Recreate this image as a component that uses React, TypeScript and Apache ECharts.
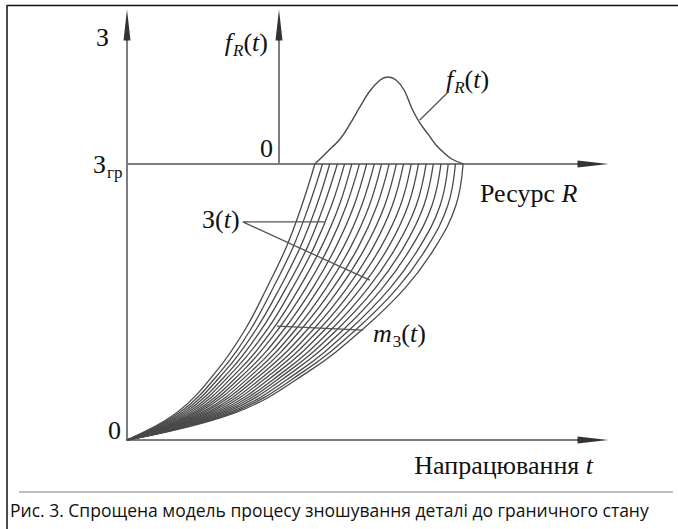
import React, { useEffect, useRef } from 'react';
import * as echarts from 'echarts';

// Wear levels З (same for every curve), with the limit wear Згр
const wearLimit = 69.1;
const wearLevels = [0, 6.9, 17.3, 27.6, 38.0, 48.4, 58.7, 69.1];

// Operating time t at which each wear curve reaches each wear level
const curveTimes: number[][] = [
  [0, 11.1, 19.9, 26.2, 31.0, 35.4, 38.8, 41.7],
  [0, 11.7, 20.9, 27.4, 32.4, 36.9, 40.4, 43.4],
  [0, 12.3, 21.8, 28.6, 33.9, 38.5, 42.1, 45.0],
  [0, 12.9, 22.8, 29.8, 35.3, 40.1, 43.7, 46.7],
  [0, 13.5, 23.7, 31.1, 36.7, 41.6, 45.4, 48.3],
  [0, 14.1, 24.7, 32.3, 38.2, 43.2, 47.1, 49.9],
  [0, 14.7, 25.7, 33.5, 39.7, 44.8, 48.7, 51.6],
  [0, 15.3, 26.7, 34.8, 41.2, 46.4, 50.4, 53.2],
  [0, 15.9, 27.7, 36.1, 42.6, 48.1, 52.1, 54.9],
  [0, 16.6, 28.7, 37.4, 44.2, 49.7, 53.8, 56.5],
  [0, 17.2, 29.7, 38.6, 45.7, 51.4, 55.5, 58.2],
  [0, 17.9, 30.7, 40.0, 47.2, 53.0, 57.2, 59.8],
  [0, 18.5, 31.8, 41.3, 48.8, 54.7, 58.9, 61.4],
  [0, 19.2, 32.8, 42.6, 50.3, 56.4, 60.7, 63.1],
  [0, 19.9, 33.9, 43.9, 51.9, 58.1, 62.4, 64.7],
  [0, 20.6, 35.0, 45.3, 53.5, 59.8, 64.2, 66.4],
  [0, 21.3, 36.0, 46.6, 55.1, 61.5, 65.9, 68.0],
  [0, 22.0, 37.1, 48.0, 56.7, 63.2, 67.7, 69.7],
  [0, 22.8, 38.3, 49.4, 58.4, 65.0, 69.5, 71.3],
  [0, 23.5, 39.4, 50.8, 60.0, 66.7, 71.2, 72.9],
  [0, 24.2, 40.5, 52.2, 61.7, 68.5, 73.0, 74.6],
];

// Resource density f_R
const densityR = [41.7, 43.3, 45.1, 47.3, 49.5, 51.7, 53.9, 56.2, 57.9, 59.7, 61.5, 63.3, 65.0, 66.8, 68.6, 70.4, 72.1, 74.6];
const densityF = [0, 0.057, 0.121, 0.202, 0.324, 0.462, 0.591, 0.68, 0.704, 0.68, 0.599, 0.445, 0.332, 0.243, 0.154, 0.089, 0.04, 0];

// Position of the f_R axis on the resource scale
const fAxisAt = 33.74;

// Leader lines of the annotations
const wearLeader = [[43.9, 54.6], [25.7, 54.6], [53.9, 40.0]];
const meanLeader = [[33.3, 28.5], [52.4, 27.5]];
const densityLeader = [[65.0, 0.356], [71.3, 0.583]];

const SERIF = '"Liberation Serif", "Times New Roman", serif';
const SANS = '"Open Sans", "Noto Sans", sans-serif';
const INK = '#111';
const AXIS = '#7d7d7d';
const CURVE = '#4a4a4a';

export default function App() {
  const ref = useRef<HTMLDivElement>(null);
  useEffect(() => {
    const chart = echarts.init(ref.current!, null, { renderer: 'svg' });
    const GL = 127, GW = 450.5, GT = 40.5, GH = 399.5;
    const topH = GH * (1 - wearLimit / 100);
    const hidden = { show: false };
    const axisLine = { show: true, onZero: false, lineStyle: { color: AXIS, width: 2 } };
    const baseAxis = { axisLine, axisTick: hidden, axisLabel: hidden, splitLine: hidden };

    const fs = 26;
    const main = { fontFamily: SERIF, fontSize: fs, fill: INK, lineHeight: 34 };
    const ital = { ...main, fontStyle: 'italic' };
    const sub = { fontFamily: SERIF, fontSize: 17, fill: INK, verticalAlign: 'bottom', lineHeight: 17, padding: [0, 0, 0, 1] };
    const subI = { ...sub, fontStyle: 'italic' };
    const rich = { m: main, i: ital, s: sub, si: subI };
    const txt = (text: string, x: number, y: number, align: string, extra: any = {}) => ({
      type: 'text', x, y, silent: true,
      style: { text, rich, align, verticalAlign: 'middle', fontFamily: SERIF, fontSize: fs, fill: INK, ...extra },
    });

    const option: any = {
      animation: false,
      grid: [
        { left: GL, top: GT, width: GW, height: GH, outerBoundsMode: 'none' },
        { left: GL, top: GT, width: GW, height: topH, outerBoundsMode: 'none' },
      ],
      xAxis: [
        { type: 'value', gridIndex: 0, min: 0, max: 100, ...baseAxis },
        { type: 'value', gridIndex: 1, min: 0, max: 100, ...baseAxis },
      ],
      yAxis: [
        { type: 'value', gridIndex: 0, min: 0, max: 100, ...baseAxis },
        { type: 'value', gridIndex: 1, min: 0, max: 1, offset: -(fAxisAt / 100) * GW, ...baseAxis },
      ],
      series: [
        ...curveTimes.map((ts, i) => ({
          type: 'line', name: 'З(t) ' + (i + 1), xAxisIndex: 0, yAxisIndex: 0,
          data: ts.map((t, k) => [t, wearLevels[k]]),
          smooth: 0.4, symbol: 'none', silent: true,
          lineStyle: { color: CURVE, width: 1.3 },
        })),
        {
          type: 'line', name: 'f_R', xAxisIndex: 1, yAxisIndex: 1,
          data: densityR.map((r, k) => [r, densityF[k]]),
          smooth: 0.4, symbol: 'none', silent: true,
          lineStyle: { color: CURVE, width: 1.4 },
        },
        {
          type: 'line', xAxisIndex: 0, yAxisIndex: 0, data: wearLeader, symbol: 'none', silent: true,
          lineStyle: { color: '#555', width: 1.3 },
        },
        {
          type: 'line', xAxisIndex: 0, yAxisIndex: 0, data: meanLeader, symbol: 'none', silent: true,
          lineStyle: { color: '#555', width: 1.3 },
        },
        {
          type: 'line', xAxisIndex: 1, yAxisIndex: 1, data: densityLeader, symbol: 'none', silent: true,
          lineStyle: { color: '#555', width: 1.3 },
        },
        {
          type: 'scatter', xAxisIndex: 0, yAxisIndex: 0, symbol: 'triangle', symbolSize: [7, 31], clip: false, silent: true,
          itemStyle: { color: '#000' },
          data: [
            { value: [100, 0], symbolRotate: -90, symbolOffset: [15.5, 0] },
            { value: [0, 100], symbolRotate: 0, symbolOffset: [0, -15.5] },
          ],
        },
        {
          type: 'scatter', xAxisIndex: 1, yAxisIndex: 1, symbol: 'triangle', symbolSize: [7, 31], clip: false, silent: true,
          itemStyle: { color: '#000' },
          data: [
            { value: [100, 0], symbolRotate: -90, symbolOffset: [15.5, 0] },
            { value: [fAxisAt, 1], symbolRotate: 0, symbolOffset: [0, -15.5] },
          ],
        },
      ],
      graphic: [
        { type: 'line', silent: true, shape: { x1: 7, y1: 5.5, x2: 678, y2: 5.5 }, style: { stroke: INK, lineWidth: 1.5 } },
        { type: 'line', silent: true, shape: { x1: 7, y1: 5, x2: 7, y2: 529 }, style: { stroke: INK, lineWidth: 1.5 } },
        { type: 'line', silent: true, shape: { x1: 19, y1: 492, x2: 673, y2: 492 }, style: { stroke: '#aaa', lineWidth: 1.5 } },
        txt('{m|З}', 96, 37, 'left'),
        txt('{i|f}{si|R}{m|(}{i|t}{m|)}', 268, 42, 'right'),
        txt('{m|0}', 273, 148, 'right'),
        txt('{m|З}{s|гр}', 93, 164, 'left'),
        txt('{m|0}', 121, 430, 'right'),
        txt('{i|f}{si|R}{m|(}{i|t}{m|)}', 446, 79, 'left'),
        txt('{m|Ресурс }{i|R}', 480, 193, 'left'),
        txt('{m|З(}{i|t}{m|)}', 202, 219, 'left'),
        txt('{i|m}{s|3}{m|(}{i|t}{m|)}', 373, 333, 'left'),
        txt('{m|Напрацювання }{i|t}', 593, 465, 'right'),
        {
          type: 'text', x: 10, y: 510, silent: true,
          style: {
            text: 'Рис. 3. Спрощена модель процесу зношування деталі до граничного стану',
            fontFamily: SANS, fontSize: 17.5, fill: INK, align: 'left', verticalAlign: 'middle',
          },
        },
      ],
    };
    chart.setOption(option);
    return () => chart.dispose();
  }, []);
  return <div ref={ref} style={{ position: 'fixed', left: 0, top: 0, width: 678, height: 529, background: '#fff' }} />;
}
